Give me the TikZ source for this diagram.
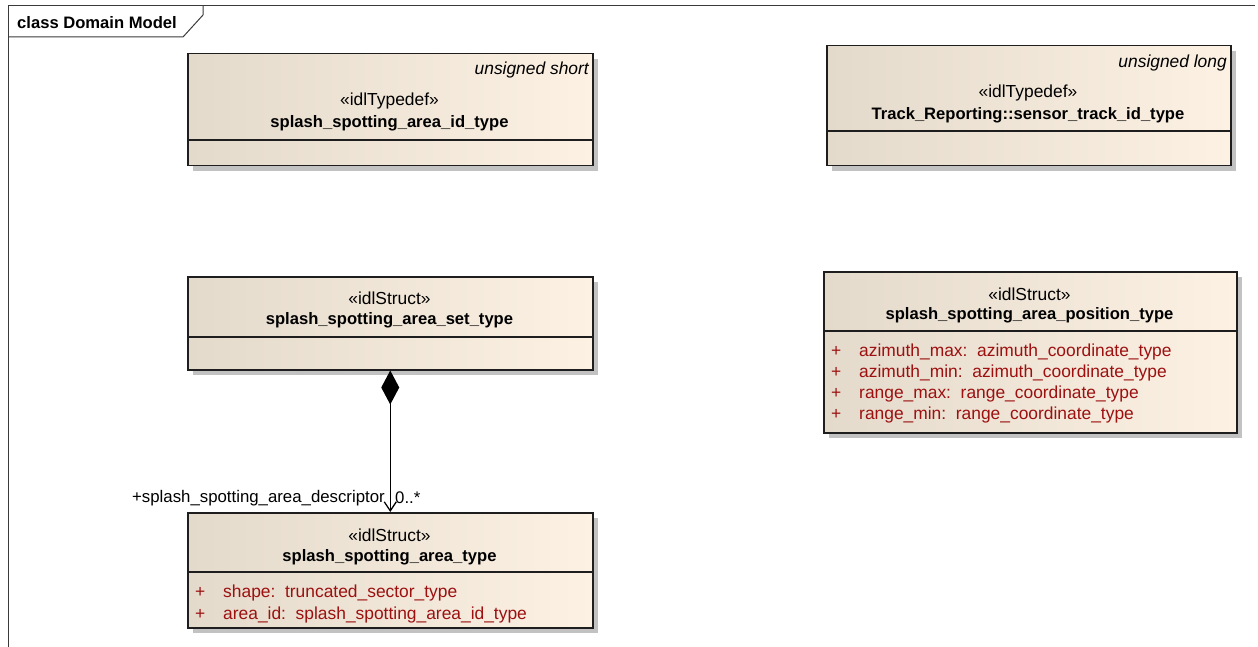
\documentclass[tikz,border=0pt]{standalone}
\usepackage{fontspec}
\setmainfont{Liberation Sans}
\usetikzlibrary{arrows.meta,shadows}
\definecolor{EaLeft}{HTML}{E4DACB}
\definecolor{EaRight}{HTML}{FCF1E3}
\definecolor{EaBorder}{HTML}{1E1E1E}
\definecolor{EaAttr}{HTML}{9C1010}
\definecolor{EaFrame}{HTML}{3A3A3A}

\tikzset{
  classbox/.style={draw=EaBorder, line width=1.5pt, anchor=north west,
    left color=EaLeft, right color=EaRight, inner sep=0pt,
    drop shadow={shadow xshift=5pt, shadow yshift=-5pt, fill=black!24, opacity=1}},
  stereo/.style={inner sep=0pt, font=\fontsize{17.4}{20}\selectfont},
  clsname/.style={inner sep=0pt, font=\fontsize{16.6}{20}\selectfont\bfseries},
  typetag/.style={inner sep=0pt, anchor=east, font=\fontsize{17.4}{20}\selectfont\itshape},
  attr/.style={inner sep=0pt, anchor=west, text=EaAttr, font=\fontsize{17.4}{20}\selectfont},
  divider/.style={draw=EaBorder, line width=1.5pt},
  rolelabel/.style={inner sep=0pt, font=\fontsize{16.8}{20}\selectfont}
}

\begin{document}
\begin{tikzpicture}[x=1pt, y=-1pt, >=Stealth]
    \useasboundingbox (0,0) rectangle (1258,647);

    % Diagram frame
    \draw[EaFrame, line width=1pt] (8,647) -- (8,6) -- (1255,6);
    \draw[EaFrame, line width=1pt] (8,37) -- (183,37) -- (203,15) -- (203,6);
    \node[clsname, anchor=west] (title) at (17,23) {class Domain Model};

    % splash_spotting_area_id_type
    \node[classbox, minimum width=405pt, minimum height=112pt] (idtype) at (187,53) {};
    \draw[divider] (187,140) -- (592,140);
    \node[typetag] (idtag) at (589,70.5) {unsigned short};
    \node[stereo] (idst) at (389.5,101.5) {«idlTypedef»};
    \node[clsname] (idname) at (389.5,123.5) {splash\_spotting\_area\_id\_type};

    % Track_Reporting::sensor_track_id_type
    \node[classbox, minimum width=404pt, minimum height=120pt] (trackid) at (826,45) {};
    \draw[divider] (826,131) -- (1230,131);
    \node[typetag] (tracktag) at (1227,63.5) {unsigned long};
    \node[stereo] (trackst) at (1028,93.5) {«idlTypedef»};
    \node[clsname] (trackname) at (1028,115.5) {Track\_Reporting::sensor\_track\_id\_type};

    % splash_spotting_area_set_type
    \node[classbox, minimum width=405pt, minimum height=93pt] (areaset) at (187,276) {};
    \draw[divider] (187,337) -- (592,337);
    \node[stereo] (setst) at (389.5,298.5) {«idlStruct»};
    \node[clsname] (setname) at (389.5,320.5) {splash\_spotting\_area\_set\_type};

    % splash_spotting_area_position_type
    \node[classbox, minimum width=413pt, minimum height=161pt] (position) at (823,271) {};
    \draw[divider] (823,331) -- (1236,331);
    \node[stereo] (posst) at (1029.5,294.5) {«idlStruct»};
    \node[clsname] (posname) at (1029.5,315.5) {splash\_spotting\_area\_position\_type};
    \foreach \y/\txt in {351.5/azimuth\_max:\ \ azimuth\_coordinate\_type,
                         372.5/azimuth\_min:\ \ azimuth\_coordinate\_type,
                         393.5/range\_max:\ \ range\_coordinate\_type,
                         414.5/range\_min:\ \ range\_coordinate\_type} {
        \node[attr] at (831,\y) {+};
        \node[attr] at (859,\y) {\txt};
    }

    % splash_spotting_area_type
    \node[classbox, minimum width=405pt, minimum height=115pt] (area) at (187,512) {};
    \draw[divider] (187,572) -- (592,572);
    \node[stereo] (areast) at (389.5,535.5) {«idlStruct»};
    \node[clsname] (areaname) at (389.5,557.5) {splash\_spotting\_area\_type};
    \foreach \y/\txt in {592.5/shape:\ \ truncated\_sector\_type,
                         614.5/area\_id:\ \ splash\_spotting\_area\_id\_type} {
        \node[attr] at (195,\y) {+};
        \node[attr] at (223,\y) {\txt};
    }

    % Composition
    \draw[line width=1.3pt, {Diamond[length=34pt, width=18pt]}-{Straight Barb[length=9pt, width=12pt]}]
        (areaset.south) -- (area.north);
    \node[rolelabel, anchor=east] (role) at (385,498) {+splash\_spotting\_area\_descriptor};
    \node[rolelabel, anchor=west] (mult) at (395,498) {0..*};
\end{tikzpicture}
\end{document}
